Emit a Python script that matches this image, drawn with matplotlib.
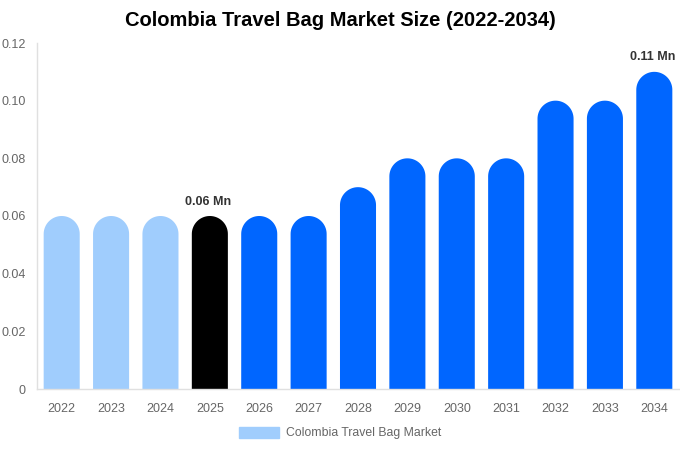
import matplotlib
matplotlib.use("Agg")
import numpy as np
import matplotlib.pyplot as plt
from matplotlib.patches import Polygon, Patch

plt.rcParams['font.family'] = ['Liberation Sans', 'DejaVu Sans']

years = ["2022", "2023", "2024", "2025", "2026", "2027", "2028", "2029", "2030", "2031", "2032", "2033", "2034"]
values = [0.06, 0.06, 0.06, 0.06, 0.06, 0.06, 0.07, 0.08, 0.08, 0.08, 0.10, 0.10, 0.11]
labels = {3: "0.06 Mn", 12: "0.11 Mn"}
series_name = "Colombia Travel Bag Market"

LIGHT = "#a0cdfd"
DARK = "#000000"
BLUE = "#0066ff"
colors = [LIGHT if i < 3 else (DARK if i == 3 else BLUE) for i in range(len(years))]

W, H = 680, 450
fig = plt.figure(figsize=(W / 100, H / 100), dpi=100)
ax_l, ax_r, ax_t, ax_b = 37, 679, 43, 389
ax = fig.add_axes([ax_l / W, 1 - ax_b / H, (ax_r - ax_l) / W, (ax_b - ax_t) / H])

ymax = 0.12
ax.set_ylim(0, ymax)
ax.set_xlim(-0.5, len(years) - 0.5)
bw = 0.73
px_per_x = (ax_r - ax_l) / len(years)
px_per_y = (ax_b - ax_t) / ymax
r_px = bw * px_per_x / 2
r_data = r_px / px_per_y

xs = list(range(len(years)))
theta = np.linspace(np.pi, 0, 40)
for x, v, c in zip(xs, values, colors):
    cy = v - r_data
    arc = np.column_stack([x + (bw / 2) * np.cos(theta), cy + r_data * np.sin(theta)])
    pts = np.vstack([[x - bw / 2, 0], arc, [x + bw / 2, 0]])
    ax.add_patch(Polygon(pts, closed=True, facecolor=c, edgecolor="none", linewidth=0))

for i, t in labels.items():
    ax.annotate(t, (xs[i], values[i]), xytext=(-1, 6), textcoords="offset points",
                ha="center", va="bottom", fontsize=9, fontweight="bold", color="#333333")

ax.set_xticks(xs)
ax.set_xticklabels(years)
ax.set_yticks([0, 0.02, 0.04, 0.06, 0.08, 0.10, 0.12])
ax.set_yticklabels(["0", "0.02", "0.04", "0.06", "0.08", "0.10", "0.12"])
ax.tick_params(axis='both', length=0, labelsize=9, colors="#666666")
ax.tick_params(axis='x', pad=10)
ax.tick_params(axis='y', pad=8)
for s in ["top", "right"]:
    ax.spines[s].set_visible(False)
for s in ["left", "bottom"]:
    ax.spines[s].set_color("#e0e0e0")
    ax.spines[s].set_linewidth(1)

fig.suptitle("Colombia Travel Bag Market Size (2022-2034)", x=0.5, y=1 - 21 / H, va="center",
             fontsize=14.5, fontweight="bold", color="#000000")

leg = fig.legend(handles=[Patch(color=LIGHT, label=series_name)], loc="center",
                 bbox_to_anchor=(340 / W, 1 - 433 / H), frameon=False, fontsize=8.8,
                 handlelength=3.3, handleheight=1.0, handletextpad=0.5)
for t in leg.get_texts():
    t.set_color("#666666")

fig.savefig("out.png", dpi=100)
